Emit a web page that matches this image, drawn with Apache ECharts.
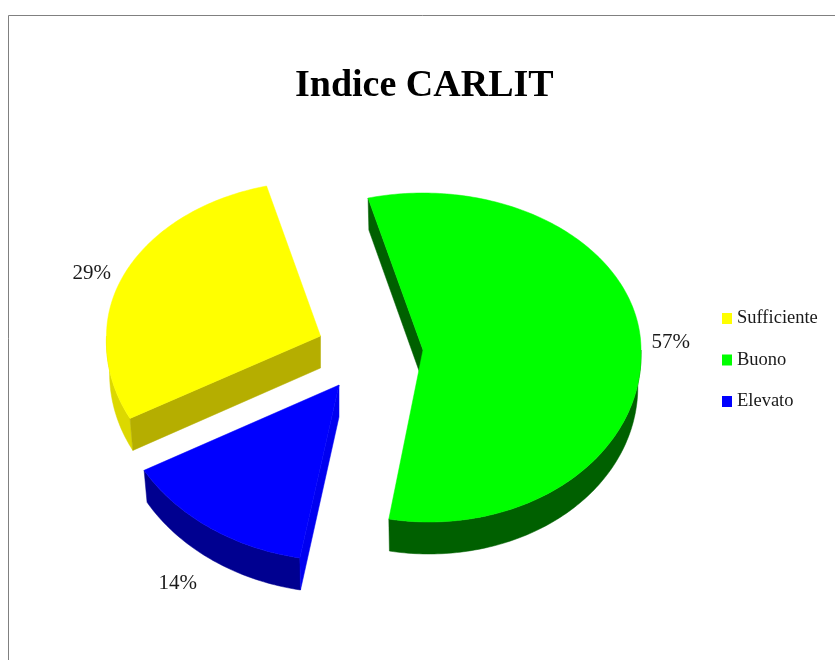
<!DOCTYPE html>
<html>
<head>
<meta charset="utf-8">
<style>html,body{margin:0;padding:0;background:#fff}#c{width:835px;height:660px}</style>
<script src="https://cdn.jsdelivr.net/npm/echarts@6/dist/echarts.min.js"></script>
</head>
<body>
<div id="c"></div>
<script>
// Data (clockwise from the first slice)
var categories = ['Buono', 'Elevato', 'Sufficiente'];
var percentages = [57, 14, 29];
var legendOrder = ['Sufficiente', 'Buono', 'Elevato'];

// Drawing settings for the exploded 3D look
var startAngle = -14.6;
var depth = 32;
var wallShrink = 0.985;
var looks = {
  Buono: { cx: 423, cy: 350, rx: 218, ryUp: 157, ryDown: 172, lean: 0.035,
    top: '#00ff00', outer: '#006000', flat: '#006000', labelOff: [30, -2] },
  Elevato: { cx: 339, cy: 385, rx: 224, ryUp: 176, ryDown: 176, lean: 0.012,
    top: '#0000ff', outer: '#000090', flat: '#0000f0', labelOff: [-32, 56] },
  Sufficiente: { cx: 320.5, cy: 336, rx: 214, ryUp: 155, ryDown: 170, lean: -0.04,
    top: '#ffff00', outer: '#dcd800', flat: '#b5ae00', labelOff: [-32, -1] }
};

function rad(d) { return d * Math.PI / 180; }
function pointAt(l, deg, isWall) {
  var s = Math.sin(rad(deg)), c = Math.cos(rad(deg));
  var dy = c > 0 ? -l.ryUp * c : -l.ryDown * c;
  var dx = l.rx * s * (isWall ? wallShrink : 1);
  if (dy > 0) dx += l.lean * dy;
  return [l.cx + dx, l.cy + dy + (isWall ? depth : 0)];
}
function arc(l, a, b, isWall) {
  var pts = [], n = Math.max(2, Math.ceil(Math.abs(b - a)));
  for (var i = 0; i <= n; i++) pts.push(pointAt(l, a + (b - a) * i / n, isWall));
  return pts;
}
function poly(points, color) {
  return { type: 'polygon', shape: { points: points }, style: { fill: color, stroke: color, lineWidth: 0.5 } };
}
function total() { return percentages.reduce(function (a, b) { return a + b; }, 0); }
function angleBefore(idx) {
  var sum = 0;
  for (var i = 0; i < idx; i++) sum += percentages[i];
  return startAngle + sum / total() * 360;
}

function makeRender(idx) {
  return function (params, api) {
    var l = looks[categories[idx]];
    var a = angleBefore(idx);
    var b = a + api.value(0) / total() * 360;
    var children = [];
    // outer wall: only the part of the rim that faces the viewer
    var wa = Math.max(a, 90), wb = Math.min(b, 270);
    if (wb > wa) {
      children.push(poly(arc(l, wa, wb, false).concat(arc(l, wb, wa, true)), l.outer));
    }
    // flat cut wall along the slice's first edge
    var apex = [l.cx, l.cy], apexLow = [l.cx, l.cy + depth];
    children.push(poly([apex, pointAt(l, a, false), pointAt(l, a, true), apexLow], l.flat));
    // top face
    children.push(poly([apex].concat(arc(l, a, b, false)), l.top));
    // percentage label
    var m = pointAt(l, (a + b) / 2, false);
    children.push({
      type: 'text', z2: 10,
      style: {
        x: m[0] + l.labelOff[0], y: m[1] + l.labelOff[1],
        text: api.value(0) + '%', align: 'center', verticalAlign: 'middle',
        fill: '#1a1a1a', font: '21px "Liberation Serif"'
      }
    });
    return { type: 'group', children: children };
  };
}

var chart = echarts.init(document.getElementById('c'), null, { renderer: 'canvas' });
chart.setOption({
  backgroundColor: '#ffffff',
  animation: false,
  title: {
    text: 'Indice CARLIT', left: 290, top: 62,
    textStyle: { fontFamily: 'Liberation Serif', fontWeight: 'bold', fontSize: 38, color: '#000' }
  },
  legend: {
    data: legendOrder, orient: 'vertical', left: 722, top: 309,
    itemWidth: 10, itemHeight: 11, itemGap: 22.5, icon: 'rect', padding: 0,
    selectedMode: false,
    textStyle: { fontFamily: 'Liberation Serif', fontSize: 18.5, color: '#1a1a1a', padding: [0, 0, 0, 0] }
  },
  graphic: [{
    type: 'rect', silent: true, z: -1,
    shape: { x: 8.5, y: 15.5, width: 900, height: 700 },
    style: { fill: '#fff', stroke: '#808080', lineWidth: 1 }
  }],
  series: categories.map(function (name, i) {
    return {
      type: 'custom', name: name, coordinateSystem: 'none',
      itemStyle: { color: looks[name].top },
      data: [[percentages[i]]],
      renderItem: makeRender(i)
    };
  })
});
</script>
</body>
</html>
